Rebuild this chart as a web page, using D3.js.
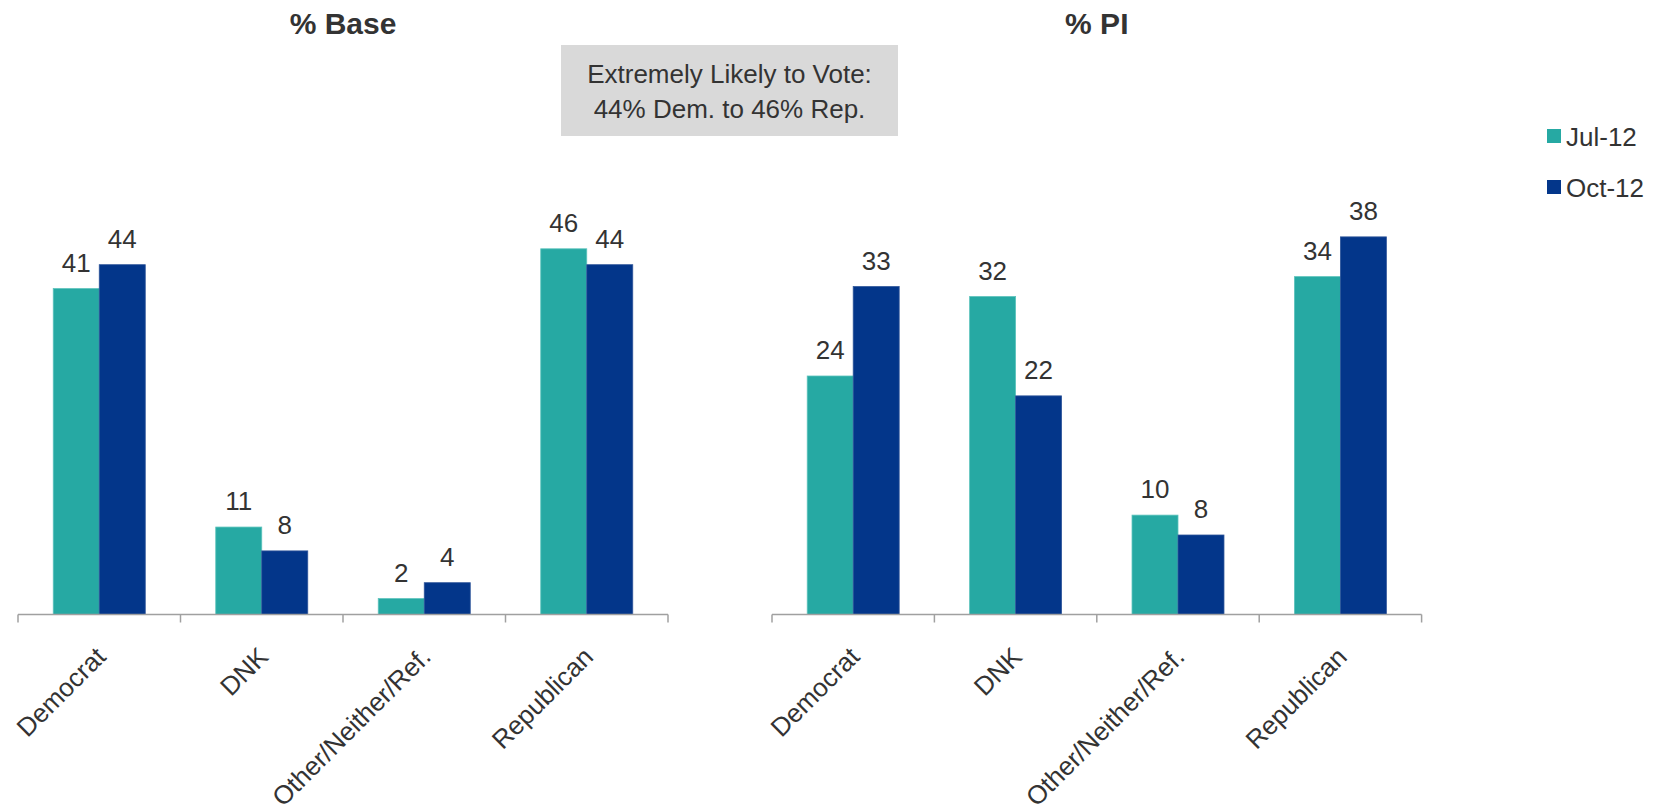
<!DOCTYPE html>
<html>
<head>
<meta charset="utf-8">
<script src="https://cdn.jsdelivr.net/npm/d3@7"></script>
<style>
  html, body { margin: 0; padding: 0; background: #ffffff; }
  svg { display: block; }
  text { font-family: "Liberation Sans", Arial, sans-serif; fill: #333333; }
</style>
</head>
<body>
<svg id="chart" width="1661" height="809"></svg>
<script>
// ---- data ----
const categories = ["Democrat", "DNK", "Other/Neither/Ref.", "Republican"];
const seriesNames = ["Jul-12", "Oct-12"];
const baseJul = [41, 11, 2, 46];
const baseOct = [44, 8, 4, 44];
const piJul = [24, 32, 10, 34];
const piOct = [33, 22, 8, 38];
const panelTitles = ["% Base", "% PI"];
const baseMax = 50;
const piMax = 40;
const noteLines = ["Extremely Likely to Vote:", "44% Dem. to 46% Rep."];

const colors = { "Jul-12": "#26A9A3", "Oct-12": "#03368A" };
const edgeColors = { "Jul-12": "#5cc3bc", "Oct-12": "#2f559a" };

const svg = d3.select("#chart");
const axisY = 614.5, plotTop = 217;

function panel(x0, x1, title, jul, oct, ymax) {
  const g = svg.append("g");
  const x = d3.scaleBand().domain(categories).range([x0, x1]).paddingInner(0).paddingOuter(0);
  const xs = d3.scaleBand().domain(seriesNames).range([0, x.bandwidth()]).paddingInner(0).paddingOuter(0.766);
  const y = d3.scaleLinear().domain([0, ymax]).range([axisY, plotTop]);

  const rows = categories.map((c, i) => ({ c, vals: [{ s: "Jul-12", v: jul[i] }, { s: "Oct-12", v: oct[i] }] }));

  const grp = g.selectAll("g.cat").data(rows).join("g")
    .attr("transform", d => `translate(${x(d.c)},0)`);
  grp.selectAll("rect").data(d => d.vals).join("rect")
    .attr("x", d => xs(d.s))
    .attr("width", xs.bandwidth())
    .attr("y", d => y(d.v))
    .attr("height", d => axisY - y(d.v))
    .attr("fill", d => colors[d.s])
    .attr("stroke", d => edgeColors[d.s])
    .attr("stroke-width", 0.8);
  grp.selectAll("text").data(d => d.vals).join("text")
    .attr("x", d => xs(d.s) + xs.bandwidth() / 2)
    .attr("y", d => y(d.v) - 17)
    .attr("text-anchor", "middle")
    .style("font-size", "26px")
    .text(d => d.v);

  // axis line + ticks at category boundaries
  const bounds = categories.map(c => x(c)).concat([x.range()[1]]);
  g.append("line").attr("x1", x0).attr("x2", x1).attr("y1", axisY).attr("y2", axisY)
    .attr("stroke", "#a0a0a0").attr("stroke-width", 1.5);
  g.selectAll("line.tick").data(bounds).join("line").attr("class", "tick")
    .attr("x1", d => d).attr("x2", d => d).attr("y1", axisY).attr("y2", axisY + 8)
    .attr("stroke", "#a0a0a0").attr("stroke-width", 1.5);

  // rotated category labels
  g.selectAll("text.cat").data(categories).join("text").attr("class", "cat")
    .attr("transform", d => `translate(${x(d) + x.bandwidth() / 2 + 8},${axisY + 44}) rotate(-45)`)
    .attr("text-anchor", "end")
    .style("font-size", "26px")
    .text(d => d);

  // title
  g.append("text").attr("x", (x0 + x1) / 2).attr("y", 34)
    .attr("text-anchor", "middle")
    .style("font-size", "30px").style("font-weight", "bold")
    .text(title);
}

panel(18, 668, panelTitles[0], baseJul, baseOct, baseMax);
panel(772, 1421.6, panelTitles[1], piJul, piOct, piMax);

// note box
svg.append("rect").attr("x", 561).attr("y", 45).attr("width", 337).attr("height", 91).attr("fill", "#d9d9d9");
svg.selectAll("text.note").data(noteLines).join("text").attr("class", "note")
  .attr("x", 729.5).attr("y", (d, i) => 82.5 + i * 35)
  .attr("text-anchor", "middle")
  .style("font-size", "26px")
  .text(d => d);

// legend
const leg = svg.selectAll("g.leg").data(seriesNames).join("g").attr("class", "leg")
  .attr("transform", (d, i) => `translate(1547,${129 + i * 51})`);
leg.append("rect").attr("width", 14).attr("height", 14).attr("fill", d => colors[d]);
leg.append("text").attr("x", 19).attr("y", 17).style("font-size", "26px").text(d => d);
</script>
</body>
</html>
